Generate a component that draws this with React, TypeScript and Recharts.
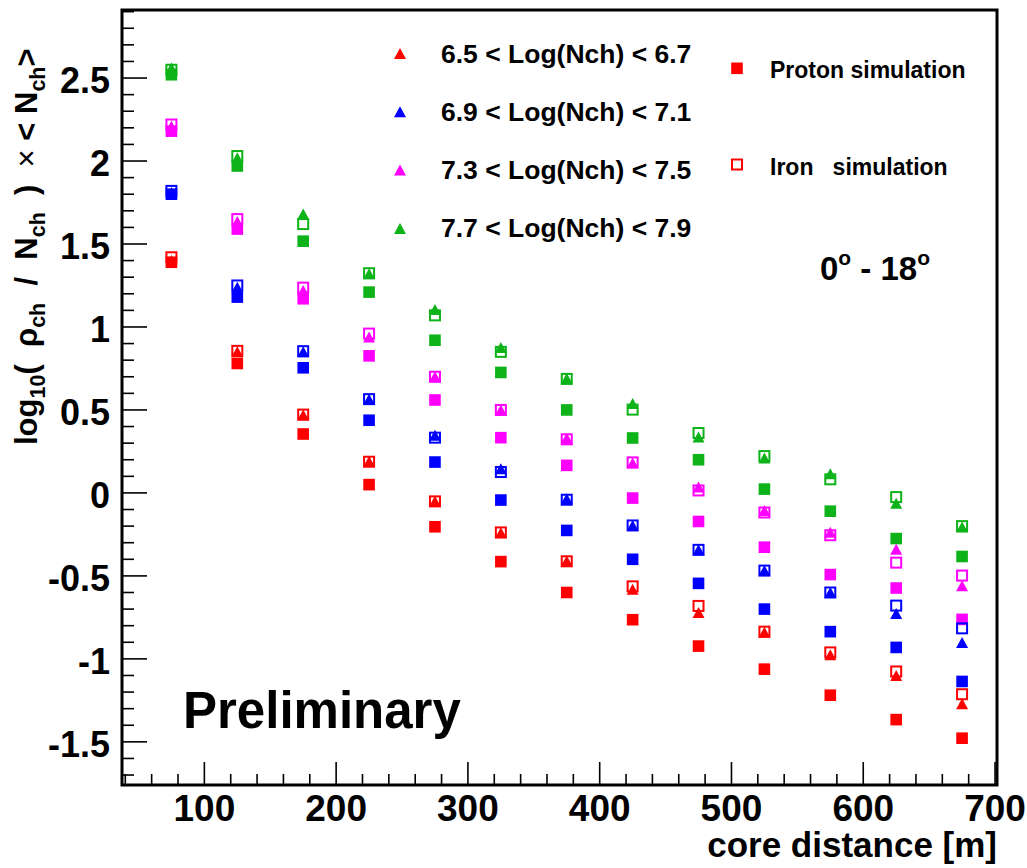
import { ScatterChart, Scatter, XAxis, YAxis, ReferenceArea } from 'recharts'

const FONT = '"Liberation Sans", Arial, Helvetica, sans-serif'

// core distance bins [m]
const DISTANCES = [75, 125, 175, 225, 275, 325, 375, 425, 475, 525, 575, 625, 675]

// measured data (triangles), one array per Log(Nch) bin
const DATA_65 = [1.40, 0.85, 0.47, 0.19, -0.05, -0.24, -0.41, -0.58, -0.72, -0.84, -0.975, -1.10, -1.27]
const DATA_69 = [1.81, 1.24, 0.85, 0.565, 0.347, 0.146, -0.035, -0.196, -0.343, -0.468, -0.60, -0.726, -0.901]
const DATA_73 = [2.21, 1.635, 1.22, 0.94, 0.70, 0.50, 0.33, 0.18, 0.035, -0.106, -0.237, -0.339, -0.559]
const DATA_77 = [2.56, 2.02, 1.68, 1.32, 1.106, 0.877, 0.69, 0.539, 0.337, 0.21, 0.116, -0.062, -0.205]

// proton simulation (full squares)
const PROTON_65 = [1.39, 0.78, 0.355, 0.05, -0.204, -0.414, -0.60, -0.764, -0.923, -1.062, -1.219, -1.366, -1.478]
const PROTON_69 = [1.80, 1.18, 0.754, 0.438, 0.186, -0.043, -0.226, -0.40, -0.545, -0.70, -0.836, -0.931, -1.136]
const PROTON_73 = [2.18, 1.59, 1.17, 0.826, 0.56, 0.333, 0.166, -0.031, -0.172, -0.327, -0.492, -0.573, -0.762]
const PROTON_77 = [2.52, 1.97, 1.517, 1.21, 0.92, 0.726, 0.50, 0.331, 0.20, 0.023, -0.11, -0.275, -0.383]

// iron simulation (open squares)
const IRON_65 = [1.42, 0.856, 0.472, 0.188, -0.051, -0.238, -0.412, -0.563, -0.681, -0.836, -0.961, -1.076, -1.213]
const IRON_69 = [1.82, 1.25, 0.854, 0.565, 0.333, 0.126, -0.041, -0.196, -0.343, -0.468, -0.60, -0.679, -0.816]
const IRON_73 = [2.22, 1.65, 1.237, 0.96, 0.70, 0.50, 0.323, 0.184, 0.015, -0.118, -0.255, -0.42, -0.498]
const IRON_77 = [2.55, 2.03, 1.62, 1.324, 1.07, 0.85, 0.687, 0.502, 0.361, 0.222, 0.082, -0.025, -0.20]

const BIN_LABELS = ['6.5 < Log(Nch) < 6.7', '6.9 < Log(Nch) < 7.1', '7.3 < Log(Nch) < 7.5', '7.7 < Log(Nch) < 7.9']
const COLORS = ['#ff0000', '#0000ff', '#ff00ff', '#0db318']

const X_DOMAIN = [37.5, 701.5]
const Y_DOMAIN = [-1.76, 2.91]
const X_TICKS = Array.from({ length: 34 }, (_, i) => 40 + i * 20)
const Y_TICKS = Array.from({ length: 47 }, (_, i) => Math.round(-17 + i) / 10)

const BINS = [
  { label: BIN_LABELS[0], color: COLORS[0], data: DATA_65, proton: PROTON_65, iron: IRON_65 },
  { label: BIN_LABELS[1], color: COLORS[1], data: DATA_69, proton: PROTON_69, iron: IRON_69 },
  { label: BIN_LABELS[2], color: COLORS[2], data: DATA_73, proton: PROTON_73, iron: IRON_73 },
  { label: BIN_LABELS[3], color: COLORS[3], data: DATA_77, proton: PROTON_77, iron: IRON_77 },
]

const pts = (ys: number[]) => DISTANCES.map((x, i) => ({ x, y: ys[i] }))

function fullSquare(color: string) {
  return (p: any) => <rect x={p.cx - 5.8} y={p.cy - 5.8} width={11.6} height={11.6} fill={color} />
}
function openSquare(color: string) {
  return (p: any) => <rect x={p.cx - 5} y={p.cy - 5} width={10} height={10} fill="none" stroke={color} strokeWidth={2} />
}
function triangle(color: string) {
  return (p: any) => (
    <polygon points={`${p.cx - 6},${p.cy + 5.5} ${p.cx + 6},${p.cy + 5.5} ${p.cx},${p.cy - 5.5}`} fill={color} />
  )
}

function XTick({ x, y, payload }: any) {
  const v = payload.value
  const major = v % 100 === 0
  return (
    <g>
      <line x1={x} x2={x} y1={y} y2={y - (major ? 23 : 11)} stroke="#000" strokeWidth={1.6} />
      {major && (
        <text x={x} y={y + 36} textAnchor="middle" fontSize={37} fontWeight="bold" fontFamily={FONT} fill="#000">{v}</text>
      )}
    </g>
  )
}

function YTick({ x, y, payload }: any) {
  const v = payload.value
  const major = Math.abs(v * 2 - Math.round(v * 2)) < 1e-6
  return (
    <g>
      <line x1={x} x2={x + (major ? 25 : 12)} y1={y} y2={y} stroke="#000" strokeWidth={1.6} />
      {major && (
        <text x={x - 12} y={y + 15} textAnchor="end" fontSize={36} fontWeight="bold" fontFamily={FONT} fill="#000">{String(v)}</text>
      )}
    </g>
  )
}

function Overlay() {
  const sub = { fontSize: 21.5 }
  return (
    <svg width={1027} height={868} style={{ position: 'absolute', left: 0, top: 0, pointerEvents: 'none' }}
      fontFamily={FONT} fontWeight="bold">
      {BINS.map((b, i) => {
        const cy = 53.5 + i * 58.3
        return (
          <g key={b.label}>
            <polygon points={`394,${cy + 5.5} 406,${cy + 5.5} 400,${cy - 5.5}`} fill={b.color} />
            <text x={441} y={cy + 9} fontSize={26.5} style={{ whiteSpace: 'pre' }}>{b.label}</text>
          </g>
        )
      })}
      <rect x={731.2} y={62.5} width={11.6} height={11.6} fill={COLORS[0]} />
      <text x={770} y={78} fontSize={23}>Proton simulation</text>
      <rect x={732} y={159.5} width={10} height={10} fill="none" stroke={COLORS[0]} strokeWidth={2} />
      <text x={770} y={175} fontSize={23} style={{ whiteSpace: 'pre' }}>Iron   simulation</text>

      <text x={820} y={280} fontSize={33} style={{ whiteSpace: 'pre' }}>
        0<tspan fontSize={21} dy={-15}>o</tspan><tspan dy={15}> - 18</tspan><tspan fontSize={21} dy={-15}>o</tspan>
      </text>

      <text x={183} y={728} fontSize={51}>Preliminary</text>

      <text x={997} y={857} fontSize={35} textAnchor="end">core distance [m]</text>

      <text transform="translate(37, 445) rotate(-90)" fontSize={31} style={{ whiteSpace: 'pre' }}>
        log<tspan {...sub} dy={7.5}>10</tspan>
        <tspan dy={-7.5}>(  ρ</tspan><tspan {...sub} dy={7.5}>ch</tspan>
        <tspan dy={-7.5}>  /  N</tspan><tspan {...sub} dy={7.5}>ch</tspan>
        <tspan dy={-7.5}>  )  </tspan><tspan fontWeight="normal">×</tspan>
        <tspan> &lt; N</tspan><tspan {...sub} dy={7.5}>ch</tspan>
        <tspan dy={-7.5}>&gt;</tspan>
      </text>
    </svg>
  )
}

export default function App() {
  return (
    <div style={{ position: 'absolute', left: 0, top: 0, width: 1027, height: 868, background: '#fff', fontFamily: FONT }}>
      <ScatterChart width={1027} height={868} margin={{ top: 10, right: 30, bottom: 0, left: 0 }}>
        <XAxis type="number" dataKey="x" domain={X_DOMAIN} allowDataOverflow ticks={X_TICKS} interval={0}
          tick={<XTick />} tickSize={0} tickMargin={0} axisLine={false} tickLine={false} height={83} />
        <YAxis type="number" dataKey="y" domain={Y_DOMAIN} allowDataOverflow ticks={Y_TICKS} interval={0}
          tick={<YTick />} tickSize={0} tickMargin={0} axisLine={false} tickLine={false} width={122} />
        <ReferenceArea x1={X_DOMAIN[0]} x2={X_DOMAIN[1]} y1={Y_DOMAIN[0]} y2={Y_DOMAIN[1]}
          fill="none" stroke="#000" strokeWidth={3} ifOverflow="visible" />
        {BINS.map(b => (
          <Scatter key={'p' + b.label} data={pts(b.proton)} shape={fullSquare(b.color)} isAnimationActive={false} />
        ))}
        {BINS.map(b => (
          <Scatter key={'i' + b.label} data={pts(b.iron)} shape={openSquare(b.color)} isAnimationActive={false} />
        ))}
        {BINS.map(b => (
          <Scatter key={'d' + b.label} data={pts(b.data)} shape={triangle(b.color)} isAnimationActive={false} />
        ))}
      </ScatterChart>
      <Overlay />
    </div>
  )
}
